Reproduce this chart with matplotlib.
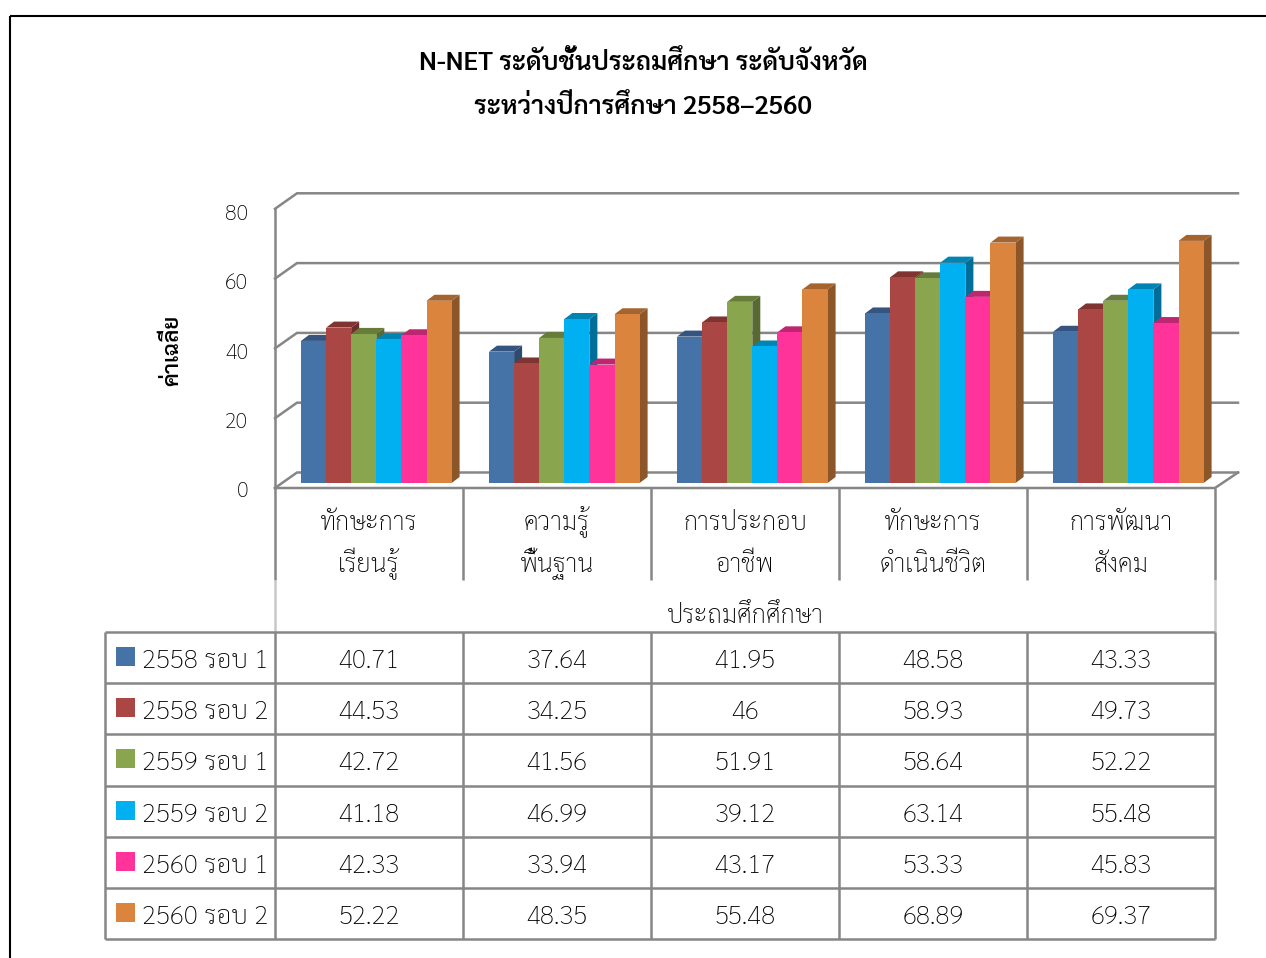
import matplotlib
matplotlib.use('Agg')
import matplotlib.pyplot as plt
from matplotlib.lines import Line2D
from matplotlib.patches import Rectangle

plt.rcParams['font.family'] = ['Sarabun', 'DejaVu Sans']

# values
series = ['2558 รอบ 1', '2558 รอบ 2', '2559 รอบ 1', '2559 รอบ 2', '2560 รอบ 1', '2560 รอบ 2']
cat_line1 = ['ทักษะการ', 'ความรู้', 'การประกอบ', 'ทักษะการ', 'การพัฒนา']
cat_line2 = ['เรียนรู้', 'พื้นฐาน', 'อาชีพ', 'ดำเนินชีวิต', 'สังคม']
s2558_1 = [40.71, 37.64, 41.95, 48.58, 43.33]
s2558_2 = [44.53, 34.25, 46, 58.93, 49.73]
s2559_1 = [42.72, 41.56, 51.91, 58.64, 52.22]
s2559_2 = [41.18, 46.99, 39.12, 63.14, 55.48]
s2560_1 = [42.33, 33.94, 43.17, 53.33, 45.83]
s2560_2 = [52.22, 48.35, 55.48, 68.89, 69.37]
all_series = [s2558_1, s2558_2, s2559_1, s2559_2, s2560_1, s2560_2]
y_ticks = [0, 20, 40, 60, 80]

front = ['#4572A7', '#AA4643', '#89A54E', '#00B0F0', '#FF3399', '#DB843D']
top = ['#35547F', '#7F3431', '#677B3A', '#0084B4', '#BF2672', '#A5632E']
side = ['#2E4A6E', '#6E2D2B', '#586A32', '#006E98', '#A62063', '#8C5628']
GREY = '#868686'
LIGHT = '#C8C8C8'
INK = '#000000'

W, H = 1266, 958
PX_PER_UNIT = 3.49
CAT_W = 188.0
X0, BASE = 275.0, 483.0
LW = 1.8

fig = plt.figure(figsize=(W / 100, H / 100), dpi=100)

# pixel layer: frame, titles, table
pix = fig.add_axes([0, 0, 1, 1])
pix.set_xlim(0, W)
pix.set_ylim(H, 0)
pix.axis('off')

# chart layer: x in categories, y in score units
ax = fig.add_axes([0, 0, 1, 1], facecolor='none')
ax.set_xlim(-X0 / CAT_W, (W - X0) / CAT_W)
ax.set_ylim((BASE - H) / PX_PER_UNIT, BASE / PX_PER_UNIT)
ax.axis('off')

def vline(x, y1, y2, color=GREY, lw=LW):
    pix.add_line(Line2D([x, x], [y1, y2], color=color, lw=lw, solid_capstyle='butt'))

def hline(y, x1, x2, color=GREY, lw=LW):
    pix.add_line(Line2D([x1, x2], [y, y], color=color, lw=lw, solid_capstyle='butt'))

# outer frame
hline(16, 10, W, color='black', lw=1.5)
vline(10, 16, H, color='black', lw=1.5)

pix.text(643, 70, 'N-NET ระดับชั้นประถมศึกษา ระดับจังหวัด', ha='center', va='baseline',
         fontsize=18.6, fontweight='semibold', color='black')
pix.text(643, 113.5, 'ระหว่างปีการศึกษา 2558–2560', ha='center', va='baseline',
         fontsize=18.6, fontweight='semibold', color='black')
pix.text(173, 350, 'ค่าเฉลี่ย', ha='center', va='center', rotation=90,
         fontsize=16, fontweight='semibold', color='black')

# walls in chart units
FRONT_OFF = -5 / PX_PER_UNIT
BACK_OFF = 10.5 / PX_PER_UNIT
xl, xb, xr = 0.0, 22 / CAT_W, (1238 - X0) / CAT_W
for v in y_ticks:
    ax.plot([xl, xb, xr], [v + FRONT_OFF, v + BACK_OFF, v + BACK_OFF],
            color=GREY, lw=LW, solid_joinstyle='miter', zorder=1)
    pix.text(248, 497 - v * 3.46, str(v), ha='right', va='baseline',
             fontsize=15.5, fontweight='light', color=INK)
ax.plot([xl, xl], [FRONT_OFF, 80 + FRONT_OFF], color=GREY, lw=LW, zorder=1)
ax.plot([xl, 5, xr], [FRONT_OFF, FRONT_OFF, BACK_OFF], color=GREY, lw=LW, zorder=1)

# 3d bars, left to right so each front covers the side before it
BAR_W = 25.1 / CAT_W
DX = 8 / CAT_W
DY = 6 / PX_PER_UNIT
GROUP_LEFT = 26 / CAT_W
z = 2
for c in range(len(cat_line1)):
    for s, vals in enumerate(all_series):
        v = vals[c]
        x = c + GROUP_LEFT + s * BAR_W
        ax.fill([x + BAR_W, x + BAR_W + DX, x + BAR_W + DX, x + BAR_W],
                [0, DY, v + DY, v], color=side[s], lw=0, zorder=z)
        ax.fill([x, x + DX, x + BAR_W + DX, x + BAR_W],
                [v, v + DY, v + DY, v], color=top[s], lw=0, zorder=z)
        ax.bar(x, v, width=BAR_W, align='edge', color=front[s], lw=0, zorder=z)
        z += 1

# category header
edges = [X0 + CAT_W * i for i in range(6)]
for i, e in enumerate(edges):
    vline(e, 488, 580)
vline(275, 580, 632, color=LIGHT)
vline(1215, 580, 632, color=LIGHT)
for i in range(5):
    cx = edges[i] + CAT_W / 2
    pix.text(cx, 530, cat_line1[i], ha='center', va='baseline', fontsize=18.3,
             fontweight='light', color=INK)
    pix.text(cx, 572.5, cat_line2[i], ha='center', va='baseline', fontsize=18.3,
             fontweight='light', color=INK)
pix.text(745, 623, 'ประถมศึกศึกษา', ha='center', va='baseline', fontsize=18.4,
         fontweight='light', color=INK)

# data table with legend keys
rows = [632, 683, 734, 786, 837, 888, 939]
for y in rows:
    hline(y, 105, 1215)
for x in [105] + edges:
    vline(x, 632, 939)
for r, name in enumerate(series):
    pix.add_patch(Rectangle((116, rows[r] + 15), 19, 19, color=front[r], lw=0))
    pix.text(142, rows[r] + 36, name, ha='left', va='baseline', fontsize=18.7,
             fontweight='light', color=INK)
    for c in range(5):
        pix.text(edges[c] + CAT_W / 2, rows[r] + 36, str(all_series[r][c]), ha='center',
                 va='baseline', fontsize=18.7, fontweight='light', color=INK)

fig.savefig('out.png', dpi=100)
